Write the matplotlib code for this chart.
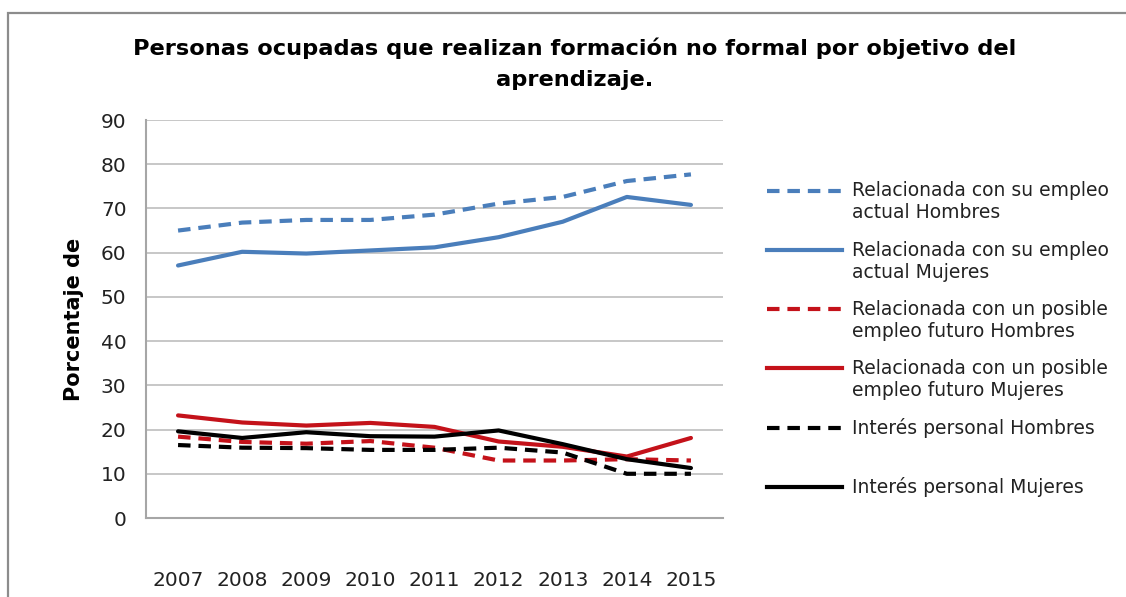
import matplotlib
matplotlib.use("Agg")
import matplotlib.pyplot as plt
from matplotlib.lines import Line2D
from matplotlib.patches import Rectangle

years = ["2007", "2008", "2009", "2010", "2011", "2012", "2013", "2014", "2015"]

empleo_actual_hombres = [65.0, 66.8, 67.4, 67.4, 68.6, 71.1, 72.6, 76.2, 77.7]
empleo_actual_mujeres = [57.1, 60.2, 59.8, 60.5, 61.2, 63.5, 67.0, 72.6, 70.8]
empleo_futuro_hombres = [18.4, 17.2, 16.8, 17.4, 15.9, 13.0, 13.0, 13.3, 13.0]
empleo_futuro_mujeres = [23.2, 21.6, 20.9, 21.5, 20.6, 17.3, 16.1, 13.9, 18.1]
interes_hombres = [16.5, 15.9, 15.8, 15.4, 15.4, 15.9, 14.8, 10.0, 10.0]
interes_mujeres = [19.6, 18.1, 19.4, 18.5, 18.4, 19.8, 16.7, 13.3, 11.3]

labels = [
    "Relacionada con su empleo\nactual Hombres",
    "Relacionada con su empleo\nactual Mujeres",
    "Relacionada con un posible\nempleo futuro Hombres",
    "Relacionada con un posible\nempleo futuro Mujeres",
    "Interés personal Hombres",
    "Interés personal Mujeres",
]
yticks = [0, 10, 20, 30, 40, 50, 60, 70, 80, 90]

BLUE = "#4A7EBB"
RED = "#C4121A"
BLACK = "#000000"
series = [
    (empleo_actual_hombres, BLUE, "--"),
    (empleo_actual_mujeres, BLUE, "-"),
    (empleo_futuro_hombres, RED, "--"),
    (empleo_futuro_mujeres, RED, "-"),
    (interes_hombres, BLACK, "--"),
    (interes_mujeres, BLACK, "-"),
]

W, H = 1126, 597
fig = plt.figure(figsize=(W / 100, H / 100), dpi=100)
fig.patch.set_facecolor("white")

# chart border
fig.add_artist(Rectangle((8 / W, -0.05), 1.2, 1 - 13 / H + 0.05,
                         transform=fig.transFigure, fill=False,
                         edgecolor="#8C8C8C", lw=1.6))

left, right, top, bottom = 146, 723, 120, 518
ax = fig.add_axes([left / W, 1 - bottom / H, (right - left) / W, (bottom - top) / H])

x = list(range(len(years)))
LW = 3.0
DASH = (3.0, 1.9)
for vals, col, ls in series:
    ln, = ax.plot(x, vals, color=col, lw=LW, solid_capstyle="round")
    if ls == "--":
        ln.set_dashes(DASH)

ax.set_xlim(-0.5, len(years) - 0.5)
ax.set_ylim(0, 90)
ax.set_yticks(yticks)
ax.set_xticks(x)
ax.set_xticklabels(years)
ax.yaxis.grid(True, color="#BEBEBE", lw=1.2)
ax.set_axisbelow(True)
for s in ["top", "right"]:
    ax.spines[s].set_visible(False)
for s in ["left", "bottom"]:
    ax.spines[s].set_color("#A6A6A6")
    ax.spines[s].set_linewidth(1.5)
ax.tick_params(axis="both", length=0, labelsize=14.5, colors="#222222")
ax.tick_params(axis="x", pad=38)
ax.tick_params(axis="y", pad=14)
for t in ax.get_xticklabels() + ax.get_yticklabels():
    t.set_fontfamily("DejaVu Sans")

ax.set_ylabel("Porcentaje de", fontsize=15, fontweight="bold",
              family="DejaVu Sans Condensed", labelpad=12)

fig.text(575 / W, 1 - 48 / H, "Personas ocupadas que realizan formación no formal por objetivo del",
         ha="center", va="center", fontsize=16.2, fontweight="bold", family="DejaVu Sans Condensed")
fig.text(575 / W, 1 - 80 / H, "aprendizaje.",
         ha="center", va="center", fontsize=16.2, fontweight="bold", family="DejaVu Sans Condensed")

# legend, drawn Excel-style (handle aligned with first text line)
ly0, lstep = 190.5, 59.3
for i, ((vals, col, ls), lab) in enumerate(zip(series, labels)):
    yy = 1 - (ly0 + i * lstep) / H
    ln = Line2D([767 / W, 842 / W], [yy, yy], transform=fig.transFigure,
                color=col, lw=LW)
    if ls == "--":
        ln.set_dashes(DASH)
    fig.add_artist(ln)
    ty = yy - 11.5 / H if "\n" in lab else yy
    fig.text(852 / W, ty, lab, ha="left", va="center",
             fontsize=13.5, family="DejaVu Sans", color="#222222", linespacing=1.2)

fig.savefig("out.png", dpi=100, facecolor="white")
